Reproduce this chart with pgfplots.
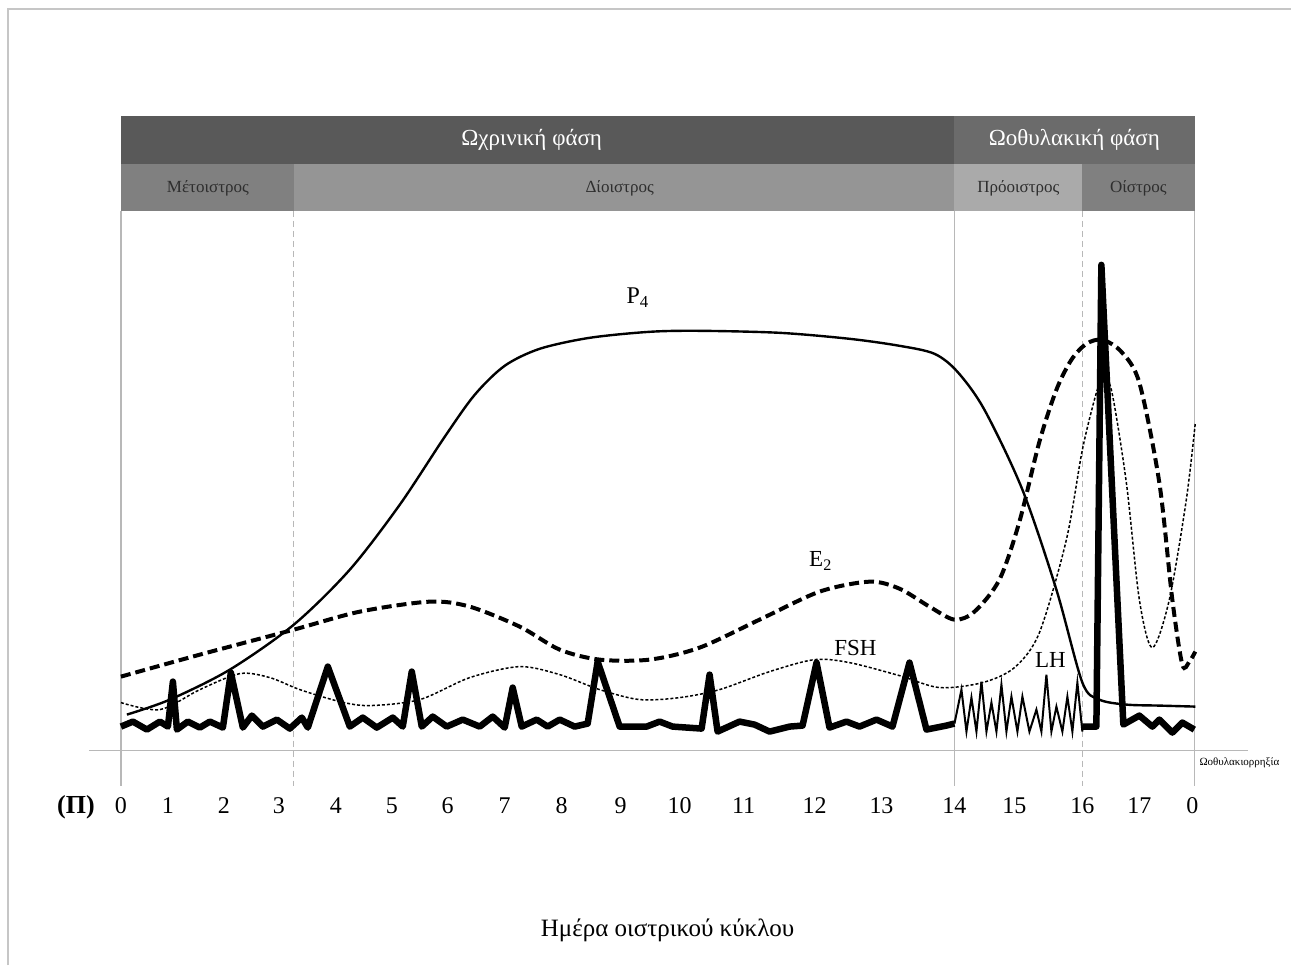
\documentclass[border=0pt]{standalone}
\usepackage{pgfplots}
\pgfplotsset{compat=1.18}
\usepackage{fontspec}
\setmainfont{Liberation Serif}
\definecolor{bandA}{HTML}{595959}
\definecolor{bandB}{HTML}{6B6B6B}
\definecolor{subA}{HTML}{808080}
\definecolor{subB}{HTML}{959595}
\definecolor{subC}{HTML}{AAAAAA}
\definecolor{subTxt}{HTML}{2E2E2E}
\definecolor{vline}{HTML}{B8B8B8}
\newcommand{\fs}[1]{\fontsize{#1}{#1}\selectfont}
\begin{document}
\begin{tikzpicture}
\begin{axis}[
  scale only axis, width=1292pt, height=966pt,
  xmin=0, xmax=1292, ymin=0, ymax=966, y dir=reverse,
  hide axis, clip=false,
]
% full canvas (invisible, fixes the bounding box)
\addplot[draw=none] coordinates {(0,0) (1292,0) (1292,966) (0,966) (0,0)};
% image frame
\addplot[color=gray!45, line width=1.5pt] coordinates {(8,966) (8,9) (1292,9)};
% top bands
\addplot[draw=none, fill=bandA] coordinates {(121,116) (955,116) (955,164) (121,164)} -- cycle;
\addplot[draw=none, fill=bandB] coordinates {(955,116) (1196,116) (1196,164) (955,164)} -- cycle;
\addplot[draw=none, fill=subA] coordinates {(121,164) (294,164) (294,211) (121,211)} -- cycle;
\addplot[draw=none, fill=subB] coordinates {(294,164) (955,164) (955,211) (294,211)} -- cycle;
\addplot[draw=none, fill=subC] coordinates {(955,164) (1083,164) (1083,211) (955,211)} -- cycle;
\addplot[draw=none, fill=subA] coordinates {(1083,164) (1196,164) (1196,211) (1083,211)} -- cycle;
\node[text=white] at (axis cs:532,140) {\fs{23}Ωχρινική φάση};
\node[text=white] at (axis cs:1075,140) {\fs{23}Ωοθυλακική φάση};
\node[text=subTxt] at (axis cs:208,188) {\fs{17}Μέτοιστρος};
\node[text=subTxt] at (axis cs:620,188) {\fs{17}Δίοιστρος};
\node[text=subTxt] at (axis cs:1019,188) {\fs{17}Πρόοιστρος};
\node[text=subTxt] at (axis cs:1139,188) {\fs{17}Οίστρος};
% vertical and horizontal guide lines
\addplot[color=vline, line width=1.2pt] coordinates {(121,211) (121,786)};
\addplot[color=vline, line width=1.2pt] coordinates {(955,211) (955,786)};
\addplot[color=vline, line width=1.2pt] coordinates {(1195,211) (1195,786)};
\addplot[color=vline, line width=1pt, dash pattern=on 6pt off 4pt] coordinates {(294,211) (294,786)};
\addplot[color=vline, line width=1pt, dash pattern=on 6pt off 4pt] coordinates {(1083,211) (1083,786)};
\addplot[color=vline, line width=1.2pt] coordinates {(89,751) (1249,751)};
% P4
\addplot[black, line width=2.4pt, smooth, tension=0.5] coordinates {
 (127,715) (170,700) (230,670) (294,625) (350,570) (400,505) (445,437) (475,395)
 (505,366) (540,349) (590,338) (650,332) (700,331) (780,333) (850,339) (900,346) (935,354)
 (958,372) (985,410) (1023,490) (1057,590) (1083,683) (1100,700) (1127,705) (1160,706) (1196,707)};
% E2
\addplot[black, line width=4pt, dash pattern=on 10pt off 5pt, smooth, tension=0.5] coordinates {
 (121,677) (200,655) (294,630) (360,612) (430,602) (470,607) (520,627) (560,650)
 (600,660) (650,660) (700,648) (760,620) (820,592) (870,582) (900,589) (930,607)
 (955,620) (975,612) (1000,580) (1020,522) (1040,442) (1057,390) (1072,360) (1087,344)
 (1103,340) (1122,352) (1140,383) (1160,483) (1173,600) (1183,665) (1190,662) (1196,652)};
% FSH
\addplot[black, line width=1.5pt, dash pattern=on 3pt off 2pt, smooth, tension=0.5] coordinates {
 (121,703) (160,710) (200,690) (240,674) (270,678) (300,690) (340,702) (370,706)
 (420,700) (470,678) (520,667) (560,675) (600,690) (640,700) (680,698) (720,690)
 (770,672) (815,660) (850,663) (900,676) (940,688) (983,683) (1015,668) (1040,633)
 (1067,540) (1083,450) (1097,393) (1103,382) (1112,390) (1127,483) (1140,600)
 (1153,648) (1170,600) (1187,500) (1196,423)};
% LH
\addplot[black, line width=6.5pt, line join=round] coordinates {
 (121,727) (133,722) (147,730) (160,722) (168,727) (173,682) (177,730) (188,722)
 (200,728) (210,722) (223,728) (231,673) (243,728) (252,716) (263,727) (277,720)
 (290,729) (302,718) (308,728) (328,667) (350,727) (363,718) (377,728) (393,718)
 (403,727) (412,672) (422,727) (433,717) (447,727) (463,720) (480,727) (493,717)
 (505,728) (513,688) (522,727) (537,720) (548,727) (560,720) (575,727) (588,724)
 (598,662) (620,727) (647,727) (660,722) (673,727) (702,729) (710,675) (718,732)
 (740,722) (755,725) (770,732) (790,727) (803,726) (817,663) (830,728) (847,722)
 (860,727) (877,720) (893,727) (910,663) (927,730) (947,726) (955,724)};
\addplot[black, line width=2pt, line join=miter] coordinates {
 (955,724) (962,690) (967,732) (972,698) (977,732) (982,682) (987,732) (992,703)
 (997,732) (1002,685) (1007,732) (1012,697) (1018,732) (1023,697) (1030,732) (1037,710)
 (1042,732) (1047,675) (1052,732) (1057,707) (1063,732) (1068,697) (1073,732) (1078,683) (1083,732)};
\addplot[black, line width=6.5pt, line join=round] coordinates {
 (1083,727) (1097,727) (1102,265) (1124,725) (1140,716) (1153,727) (1160,720)
 (1173,733) (1183,723) (1195,730)};
% curve labels
\node at (axis cs:638,298) {\fs{24}P\textsubscript{4}};
\node at (axis cs:821,561) {\fs{23}E\textsubscript{2}};
\node at (axis cs:856,648) {\fs{23}FSH};
\node at (axis cs:1051,660) {\fs{23}LH};
\node[anchor=west, inner sep=1pt] at (axis cs:1199,763) {\fs{11}Ωοθυλακιορρηξία};
% day labels
\node[anchor=base] at (axis cs:76,814) {\fs{26}\bfseries (Π)};
\node[anchor=base] at (axis cs:121,814) {\fs{24}0};
\node[anchor=base] at (axis cs:168,814) {\fs{24}1};
\node[anchor=base] at (axis cs:224,814) {\fs{24}2};
\node[anchor=base] at (axis cs:279,814) {\fs{24}3};
\node[anchor=base] at (axis cs:336,814) {\fs{24}4};
\node[anchor=base] at (axis cs:392,814) {\fs{24}5};
\node[anchor=base] at (axis cs:448,814) {\fs{24}6};
\node[anchor=base] at (axis cs:505,814) {\fs{24}7};
\node[anchor=base] at (axis cs:562,814) {\fs{24}8};
\node[anchor=base] at (axis cs:621,814) {\fs{24}9};
\node[anchor=base] at (axis cs:680,814) {\fs{24}10};
\node[anchor=base] at (axis cs:744,814) {\fs{24}11};
\node[anchor=base] at (axis cs:815,814) {\fs{24}12};
\node[anchor=base] at (axis cs:882,814) {\fs{24}13};
\node[anchor=base] at (axis cs:955,814) {\fs{24}14};
\node[anchor=base] at (axis cs:1015,814) {\fs{24}15};
\node[anchor=base] at (axis cs:1083,814) {\fs{24}16};
\node[anchor=base] at (axis cs:1140,814) {\fs{24}17};
\node[anchor=base] at (axis cs:1193,814) {\fs{24}0};
\node[anchor=base] at (axis cs:668,937) {\fs{25}Ημέρα οιστρικού κύκλου};
\end{axis}
\end{tikzpicture}
\end{document}
